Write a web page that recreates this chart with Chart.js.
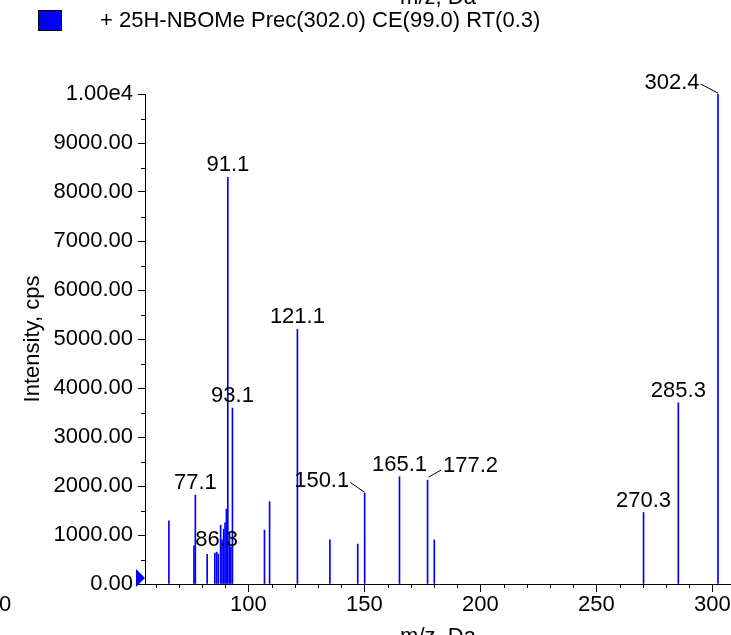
<!DOCTYPE html>
<html>
<head>
<meta charset="utf-8">
<script src="https://cdn.jsdelivr.net/npm/chart.js@4.4.1/dist/chart.umd.min.js"></script>
<style>
  html, body { margin: 0; padding: 0; background: #fff; }
</style>
</head>
<body>
<canvas id="spectrum" width="731" height="635"></canvas>
<script>
// Пики спектра: m/z и интенсивность (cps)
const mzValues = [65.7, 76.5, 77.1, 82.2, 85.5, 86.3, 87.0, 88.0, 88.6, 89.3, 89.9, 90.5, 91.1, 91.8, 92.4, 93.1,
  106.9, 109.1, 121.1, 135.1, 147.1, 150.1, 165.1, 177.2, 180.1, 270.3, 285.3, 302.4];
const intensities = [1290, 780, 1815, 605, 630, 650, 610, 1200, 900, 1120, 1250, 1530, 8300, 1040, 760, 3590,
  1100, 1680, 5200, 900, 815, 1850, 2190, 2120, 900, 1460, 3700, 10000];

// Подписанные пики
const labelledPeaks = ['91.1', '121.1', '93.1', '77.1', '86.3', '150.1', '165.1', '177.2', '270.3', '285.3', '302.4'];

// Деления осей
const xTickValues = [100, 150, 200, 250, 300];
const xMinorTicks = [60, 70, 80, 90, 110, 120, 130, 140, 160, 170, 180, 190, 210, 220, 230, 240, 260, 270, 280, 290];
const yTickValues = [0, 1000, 2000, 3000, 4000, 5000, 6000, 7000, 8000, 9000, 10000];
const yMinorTicks = [500, 1500, 2500, 3500, 4500, 5500, 6500, 7500, 8500, 9500];

const seriesName = '+ 25H-NBOMe Prec(302.0) CE(99.0) RT(0.3)';
const xTitle = 'm/z, Da';
const yTitle = 'Intensity, cps';

const FONT_FAMILY = 'Arial, "Liberation Sans", sans-serif';
const FONT = '22px ' + FONT_FAMILY;
const BLUE = '#0000ff';

// Смещения подписей с выносками (dx, dy от вершины пика)
const labelShift = {
    '150.1': { dx: -43, dy: -12, lead: 'left' },
    '177.2': { dx: 43, dy: -14, lead: 'right' },
    '302.4': { dx: -46, dy: -11, lead: 'left' }
};

const decorations = {
    id: 'decorations',
    afterDraw(chart) {
        const ctx = chart.ctx;
        const xs = chart.scales.x;
        const ys = chart.scales.y;
        const area = chart.chartArea;
        ctx.save();

        // мелкие деления
        ctx.strokeStyle = '#000';
        ctx.lineWidth = 1;
        ctx.beginPath();
        xMinorTicks.forEach(v => {
            const px = Math.round(xs.getPixelForValue(v)) + 0.5;
            ctx.moveTo(px, area.bottom);
            ctx.lineTo(px, area.bottom + 4);
        });
        yMinorTicks.forEach(v => {
            const py = Math.round(ys.getPixelForValue(v)) + 0.5;
            ctx.moveTo(area.left - 4, py);
            ctx.lineTo(area.left, py);
        });
        ctx.stroke();

        // синий маркер у начала оси
        const cy = ys.getPixelForValue(0) - 6;
        ctx.fillStyle = BLUE;
        ctx.beginPath();
        ctx.moveTo(area.left - 9, cy - 9);
        ctx.lineTo(area.left, cy);
        ctx.lineTo(area.left - 9, cy + 9);
        ctx.closePath();
        ctx.fill();

        // подписи пиков
        const meta = chart.getDatasetMeta(0);
        ctx.font = FONT;
        ctx.fillStyle = '#000';
        ctx.textAlign = 'center';
        ctx.textBaseline = 'middle';
        labelledPeaks.forEach(lbl => {
            const i = mzValues.findIndex(m => m.toFixed(1) === lbl);
            if (i < 0) return;
            const el = meta.data[i];
            const s = labelShift[lbl] || { dx: 0, dy: -12 };
            const tx = el.x + s.dx;
            const ty = el.y + s.dy;
            ctx.fillText(lbl, tx, ty);
            if (s.lead) {
                const w = ctx.measureText(lbl).width;
                ctx.beginPath();
                ctx.lineWidth = 1;
                ctx.strokeStyle = '#000';
                if (s.lead === 'left') {
                    ctx.moveTo(tx + w / 2 + 1, ty + 1);
                    ctx.lineTo(el.x, el.y - 1);
                } else {
                    ctx.moveTo(tx - w / 2 - 2, ty + 4);
                    ctx.lineTo(el.x + 1, el.y - 3);
                }
                ctx.stroke();
            }
        });

        // легенда
        ctx.fillStyle = BLUE;
        ctx.fillRect(38, 10, 24, 21);
        ctx.strokeStyle = '#000';
        ctx.strokeRect(38.5, 10.5, 23, 20);
        ctx.fillStyle = '#000';
        ctx.textAlign = 'left';
        ctx.fillText(seriesName, 100, 21);

        // заголовки оси X (сверху и снизу обрезаны кадром)
        ctx.textAlign = 'center';
        ctx.textBaseline = 'alphabetic';
        const midX = (area.left + area.right) / 2;
        ctx.fillText(xTitle, midX, 4);
        ctx.fillText(xTitle, midX, 643);
        ctx.textBaseline = 'middle';
        ctx.fillText('0', 5, 605);

        ctx.restore();
    }
};

new Chart(document.getElementById('spectrum'), {
    type: 'bar',
    data: {
        datasets: [{
            label: seriesName,
            data: mzValues.map((m, i) => ({ x: m, y: intensities[i] })),
            backgroundColor: BLUE,
            borderWidth: 0,
            barThickness: 1
        }]
    },
    options: {
        responsive: false,
        animation: false,
        devicePixelRatio: 1,
        layout: { padding: { top: 94, left: 0, right: 0, bottom: 0 } },
        plugins: {
            legend: { display: false },
            tooltip: { enabled: false }
        },
        scales: {
            x: {
                type: 'linear',
                min: 55.4,
                max: 308,
                offset: false,
                afterBuildTicks: scale => { scale.ticks = xTickValues.map(v => ({ value: v })); },
                afterFit: scale => { scale.height = 51; },
                ticks: {
                    font: { size: 22, family: FONT_FAMILY },
                    color: '#000',
                    padding: 0,
                    maxRotation: 0,
                    autoSkip: false,
                    callback: v => String(v)
                },
                grid: { offset: false, drawOnChartArea: false, tickLength: 8, tickColor: '#000', color: '#000' },
                border: { display: true, color: '#000', width: 1 }
            },
            y: {
                min: 0,
                max: 10000,
                afterBuildTicks: scale => { scale.ticks = yTickValues.map(v => ({ value: v })); },
                afterFit: scale => { scale.width = 145; },
                ticks: {
                    font: { size: 22, family: FONT_FAMILY },
                    color: '#000',
                    padding: 5,
                    autoSkip: false,
                    callback: v => (v === 10000 ? '1.00e4' : v.toFixed(2))
                },
                grid: { drawOnChartArea: false, tickLength: 7, tickColor: '#000', color: '#000' },
                border: { display: true, color: '#000', width: 1 },
                title: {
                    display: true,
                    text: yTitle,
                    color: '#000',
                    font: { size: 22, family: FONT_FAMILY },
                    padding: { top: 20, bottom: 0 }
                }
            }
        }
    },
    plugins: [decorations]
});
</script>
</body>
</html>
